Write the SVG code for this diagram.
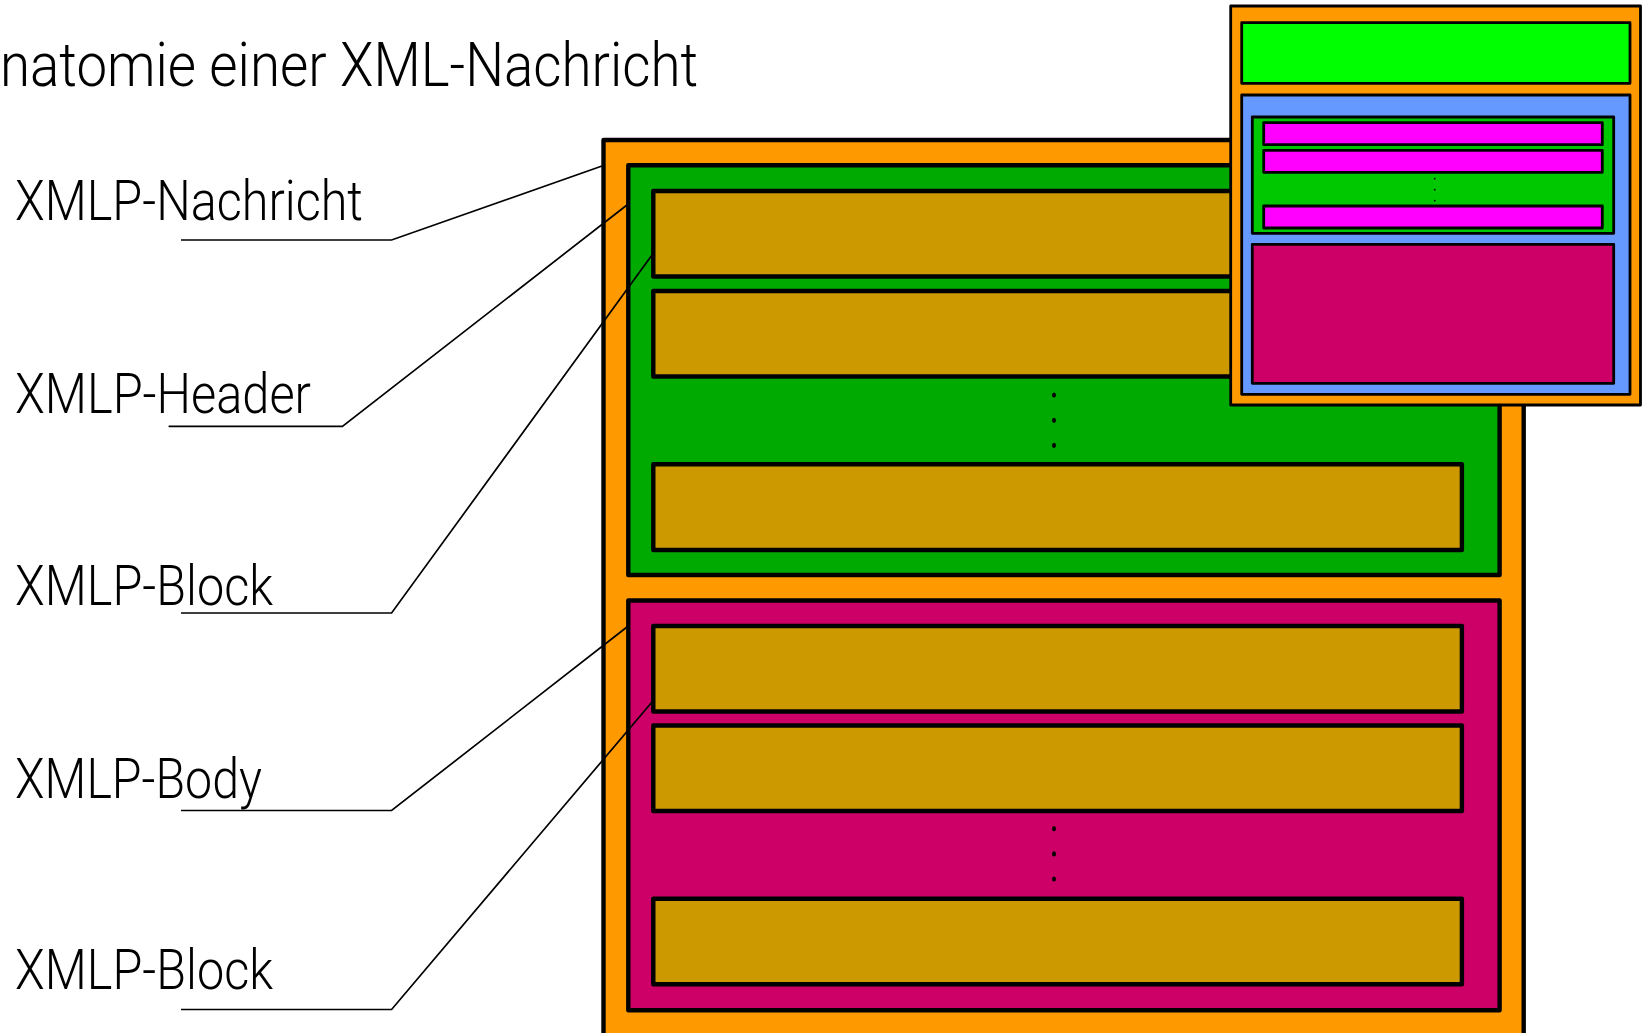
<svg xmlns="http://www.w3.org/2000/svg" width="1642" height="1033" viewBox="0 0 1642 1033">
<style>
.box{stroke:#000;stroke-width:4.4;stroke-linejoin:round}
.ibox{stroke:#000;stroke-width:2.8;stroke-linejoin:round}
.orange{fill:#FF9900}
.green{fill:#00AA00}
.gold{fill:#CC9900}
.crimson{fill:#CC0066}
.lime{fill:#00FF00}
.blue{fill:#6699FF}
.igreen{fill:#00C800}
.magenta{fill:#FF00FF}
.lbl{font-family:"Roboto","Liberation Sans",sans-serif;font-weight:300;font-size:56px;fill:#000}
.title{font-family:"Roboto","Liberation Sans",sans-serif;font-weight:300;font-size:62px;fill:#000}
.conn{fill:none;stroke:#000;stroke-width:1.7}
</style>
<rect width="1642" height="1033" fill="#fff"/>
<text id="title" class="title" x="0" y="86" textLength="698" lengthAdjust="spacingAndGlyphs">natomie einer XML-Nachricht</text>
<g id="nachricht">
<rect class="box orange" x="603.5" y="140" width="920.2" height="1000"/>
</g>
<g id="header">
<rect class="box green" x="628.3" y="165.3" width="871.3" height="409.7"/>
<g id="header-block1"><rect class="box gold" x="653.3" y="191" width="808.6" height="85.5"/></g>
<g id="header-block2"><rect class="box gold" x="653.3" y="291" width="808.6" height="85.5"/></g>
<g id="header-block3"><rect class="box gold" x="653.3" y="464.3" width="808.6" height="85.7"/></g>
<ellipse cx="1054" cy="395" rx="2" ry="2.6"/>
<ellipse cx="1054" cy="420.3" rx="2" ry="2.6"/>
<ellipse cx="1054" cy="445.3" rx="2" ry="2.6"/>
</g>
<g id="body">
<rect class="box crimson" x="628.3" y="600.5" width="871.3" height="409.7"/>
<g id="body-block1"><rect class="box gold" x="653.3" y="626" width="808.6" height="85.5"/></g>
<g id="body-block2"><rect class="box gold" x="653.3" y="725.5" width="808.6" height="85.5"/></g>
<g id="body-block3"><rect class="box gold" x="653.3" y="898.8" width="808.6" height="85.5"/></g>
<ellipse cx="1054" cy="828.7" rx="2" ry="2.6"/>
<ellipse cx="1054" cy="853.9" rx="2" ry="2.6"/>
<ellipse cx="1054" cy="879" rx="2" ry="2.6"/>
</g>
<g id="labels">
<text id="lbl-nachricht" class="lbl" x="15" y="220" textLength="348" lengthAdjust="spacingAndGlyphs">XMLP-Nachricht</text>
<text id="lbl-header" class="lbl" x="15" y="412.6" textLength="296" lengthAdjust="spacingAndGlyphs">XMLP-Header</text>
<text id="lbl-block1" class="lbl" x="15" y="605" textLength="258" lengthAdjust="spacingAndGlyphs">XMLP-Block</text>
<text id="lbl-body" class="lbl" x="15" y="798" textLength="247" lengthAdjust="spacingAndGlyphs">XMLP-Body</text>
<text id="lbl-block2" class="lbl" x="15" y="988.5" textLength="258" lengthAdjust="spacingAndGlyphs">XMLP-Block</text>
</g>
<g id="connectors">
<polyline class="conn" points="181,240 391.6,240 602,166"/>
<polyline class="conn" points="168.6,426.4 342.4,426.4 627,205"/>
<polyline class="conn" points="181,613 391.6,613 652,255"/>
<polyline class="conn" points="181,810.5 391.6,810.5 627,627"/>
<polyline class="conn" points="181,1009.5 391.6,1009.5 652,702"/>
</g>
<g id="inset">
<rect class="ibox orange" x="1230.7" y="6" width="409.8" height="399"/>
<g id="inset-header"><rect class="ibox lime" x="1241.7" y="22.7" width="388.3" height="60.6"/></g>
<g id="inset-body">
<rect class="ibox blue" x="1241.7" y="95" width="388.3" height="299.3"/>
<g id="inset-inner">
<rect class="ibox igreen" x="1252.3" y="117" width="361.4" height="116.3"/>
<rect class="ibox magenta" x="1263.7" y="122.7" width="338.6" height="22"/>
<rect class="ibox magenta" x="1263.7" y="150.3" width="338.6" height="22"/>
<rect class="ibox magenta" x="1263.7" y="206" width="338.6" height="22"/>
<circle cx="1434.7" cy="178.7" r="0.9"/>
<circle cx="1434.7" cy="189.7" r="0.9"/>
<circle cx="1434.7" cy="200.7" r="0.9"/>
</g>
<rect class="ibox crimson" x="1252.3" y="244.3" width="361.4" height="139"/>
</g>
</g>
</svg>
